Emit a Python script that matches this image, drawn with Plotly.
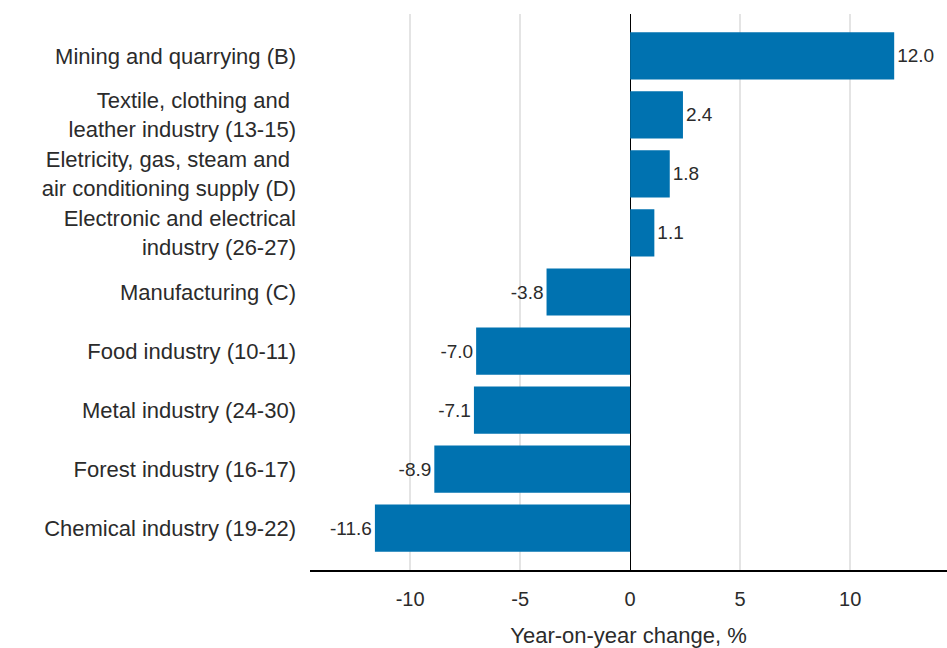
import plotly.graph_objects as go

categories = [
    "Mining and quarrying (B)",
    "Textile, clothing and <br>leather industry (13-15)",
    "Eletricity, gas, steam and <br>air conditioning supply (D)",
    "Electronic and electrical<br>industry (26-27)",
    "Manufacturing (C)",
    "Food industry (10-11)",
    "Metal industry (24-30)",
    "Forest industry (16-17)",
    "Chemical industry (19-22)",
]
values = [12.0, 2.4, 1.8, 1.1, -3.8, -7.0, -7.1, -8.9, -11.6]
tick_vals = [-10, -5, 0, 5, 10]
tick_text = ["-10", "-5", "0", "5", "10"]

FONT = "Liberation Sans, Arial, sans-serif"
TXT = "#2b2b2b"

fig = go.Figure(go.Bar(
    x=values, y=categories, orientation="h",
    marker=dict(color="#0072b0", line=dict(width=0)),
    text=[f"{v:.1f}" for v in values],
    textposition="outside",
    textfont=dict(size=19, color=TXT, family=FONT),
    cliponaxis=False,
))
fig.update_layout(
    width=947, height=648,
    margin=dict(l=310, r=0, t=14, b=78, autoexpand=False),
    plot_bgcolor="white", paper_bgcolor="white",
    font=dict(family=FONT, size=20, color=TXT),
    bargap=0.2,
    showlegend=False,
    xaxis=dict(
        range=[-14.55, 14.4], tickvals=tick_vals, ticktext=tick_text,
        showgrid=True, gridcolor="#e4e4e4", gridwidth=2,
        zeroline=True, zerolinecolor="#000000", zerolinewidth=1,
        showline=True, linecolor="#000000", linewidth=1.5,
        ticks="", ticklabelstandoff=10, automargin=False,
        title=dict(text="Year-on-year change, %", standoff=19, font=dict(size=22)),
        tickfont=dict(size=20),
    ),
    yaxis=dict(
        range=[8.71, -0.71], showgrid=False, ticks="", automargin=False,
        tickfont=dict(size=22, color=TXT), ticklabelstandoff=13,
    ),
)
fig.write_html(
    "out.html",
    config={"displayModeBar": False},
    post_script="document.body.style.margin='0';document.documentElement.style.overflow='hidden';",
)
